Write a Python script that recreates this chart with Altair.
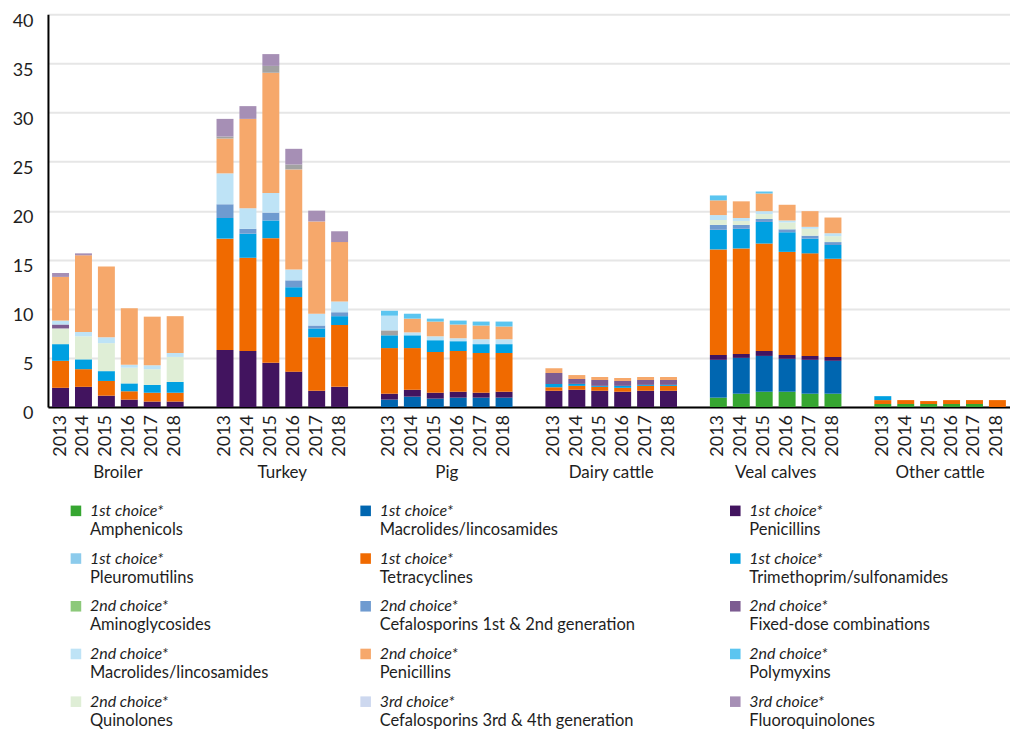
import altair as alt
import pandas as pd

GROUPS = ["Broiler", "Turkey", "Pig", "Dairy cattle", "Veal calves", "Other cattle"]
YEARS = ["2013", "2014", "2015", "2016", "2017", "2018"]

# legend entries (row-wise order) -- key, choice label, name, colour
LEGEND_KEYS = ["amph1", "macro1", "peni1", "pleuro1", "tetra1", "trim1",
               "amino2", "cef12_2", "fixed2", "macro2", "peni2", "poly2",
               "quino2", "cef34_3", "fluoro3"]
LEGEND_CHOICE = ["1st choice*", "1st choice*", "1st choice*",
                 "1st choice*", "1st choice*", "1st choice*",
                 "2nd choice*", "2nd choice*", "2nd choice*",
                 "2nd choice*", "2nd choice*", "2nd choice*",
                 "2nd choice*", "3rd choice*", "3rd choice*"]
LEGEND_NAMES = ["Amphenicols", "Macrolides/lincosamides", "Penicillins",
                "Pleuromutilins", "Tetracyclines", "Trimethoprim/sulfonamides",
                "Aminoglycosides", "Cefalosporins 1st & 2nd generation", "Fixed-dose combinations",
                "Macrolides/lincosamides", "Penicillins", "Polymyxins",
                "Quinolones", "Cefalosporins 3rd & 4th generation", "Fluoroquinolones"]
LEGEND_COLORS = ["#36a631", "#0066b0", "#42145f", "#8ccbec", "#f06a00", "#00a0e1",
                 "#8cc97a", "#6f9bd0", "#7c5b91", "#bee3f6", "#f6a86b", "#5bc5f0",
                 "#dfeed6", "#cdd8ef", "#a68fb5"]

# unlabelled grey segments seen in the bars
GREY_KEYS = ["grey_low", "grey_high"]
GREY_COLOR = "#a2a2a2"

# stacking order, bottom to top
STACK_ORDER = ["amph1", "macro1", "peni1", "pleuro1", "tetra1", "trim1", "grey_low",
               "amino2", "cef12_2", "quino2", "fixed2", "macro2", "peni2", "poly2",
               "grey_high", "cef34_3", "fluoro3"]

# values (DDDA/Y), one entry per year 2013..2018
BROILER = {
    "peni1":  [1.95, 2.05, 1.15, 0.75, 0.55, 0.55],
    "tetra1": [2.75, 1.80, 1.50, 0.85, 0.90, 0.90],
    "trim1":  [1.70, 1.00, 1.00, 0.80, 0.80, 1.10],
    "quino2": [1.60, 2.35, 2.85, 1.60, 1.60, 2.55],
    "fixed2": [0.40, 0.00, 0.00, 0.00, 0.00, 0.00],
    "macro2": [0.40, 0.45, 0.60, 0.30, 0.40, 0.40],
    "peni2":  [4.45, 7.80, 7.20, 5.75, 4.95, 3.75],
    "fluoro3": [0.40, 0.20, 0.00, 0.00, 0.00, 0.00],
}
TURKEY = {
    "peni1":  [5.80, 5.70, 4.50, 3.60, 1.65, 2.05],
    "tetra1": [11.35, 9.50, 12.70, 7.60, 5.45, 6.30],
    "trim1":  [2.10, 2.45, 1.80, 1.00, 0.90, 0.90],
    "cef12_2": [1.40, 0.50, 0.80, 0.70, 0.30, 0.40],
    "macro2": [3.15, 2.10, 2.00, 1.10, 1.20, 1.10],
    "peni2":  [3.55, 9.10, 12.25, 10.20, 9.40, 6.05],
    "grey_high": [0.20, 0.00, 0.70, 0.50, 0.00, 0.00],
    "fluoro3": [1.80, 1.30, 1.20, 1.60, 1.10, 1.10],
}
PIG = {
    "macro1": [0.75, 1.05, 0.85, 0.95, 0.95, 0.95],
    "peni1":  [0.60, 0.70, 0.60, 0.60, 0.50, 0.60],
    "tetra1": [4.65, 4.25, 4.15, 4.15, 4.05, 3.95],
    "trim1":  [1.30, 1.30, 1.20, 1.00, 0.90, 0.90],
    "grey_low": [0.50, 0.00, 0.00, 0.00, 0.00, 0.00],
    "macro2": [1.50, 0.30, 0.40, 0.30, 0.50, 0.50],
    "peni2":  [0.00, 1.40, 1.50, 1.40, 1.40, 1.30],
    "poly2":  [0.50, 0.50, 0.30, 0.40, 0.40, 0.50],
}
DAIRY = {
    "peni1":  [1.65, 1.75, 1.65, 1.55, 1.65, 1.65],
    "tetra1": [0.35, 0.40, 0.40, 0.40, 0.50, 0.50],
    "trim1":  [0.35, 0.20, 0.10, 0.20, 0.10, 0.10],
    "fixed2": [1.10, 0.50, 0.60, 0.50, 0.50, 0.50],
    "peni2":  [0.50, 0.40, 0.30, 0.30, 0.30, 0.30],
}
VEAL = {
    "amph1":  [0.95, 1.35, 1.55, 1.55, 1.35, 1.35],
    "macro1": [3.85, 3.65, 3.65, 3.35, 3.45, 3.35],
    "peni1":  [0.50, 0.40, 0.50, 0.40, 0.40, 0.40],
    "tetra1": [10.75, 10.75, 10.95, 10.50, 10.45, 10.00],
    "trim1":  [2.00, 2.00, 2.20, 2.00, 1.50, 1.40],
    "cef12_2": [0.50, 0.40, 0.30, 0.30, 0.30, 0.30],
    "quino2": [0.50, 0.40, 0.50, 0.70, 0.70, 0.60],
    "macro2": [0.50, 0.30, 0.30, 0.20, 0.20, 0.30],
    "peni2":  [1.50, 1.70, 1.80, 1.60, 1.60, 1.60],
    "poly2":  [0.50, 0.00, 0.20, 0.00, 0.00, 0.00],
}
OTHER_CATTLE = {
    "amph1":  [0.30, 0.30, 0.30, 0.30, 0.30, 0.00],
    "tetra1": [0.40, 0.40, 0.30, 0.40, 0.40, 0.70],
    "trim1":  [0.40, 0.00, 0.00, 0.00, 0.00, 0.00],
}
GROUP_DATA = [BROILER, TURKEY, PIG, DAIRY, VEAL, OTHER_CATTLE]

FONT = "Lato"
TEXT_COLOR = "#1e1e1e"

rows = []
for g, data in zip(GROUPS, GROUP_DATA):
    for key, vals in data.items():
        for yr, v in zip(YEARS, vals):
            if v > 0:
                rows.append({"group": g, "year": yr, "key": key, "value": v,
                             "rank": STACK_ORDER.index(key)})
df = pd.DataFrame(rows)

year_df = pd.DataFrame([{"group": g, "year": y} for g in GROUPS for y in YEARS])

all_keys = LEGEND_KEYS + GREY_KEYS
all_colors = LEGEND_COLORS + [GREY_COLOR, GREY_COLOR]

x_enc = alt.X("group:N", sort=GROUPS,
              scale=alt.Scale(paddingInner=0.2, paddingOuter=0.025),
              axis=alt.Axis(title=None, labelAngle=0, labelPadding=58, ticks=False,
                            domainColor="black", domainWidth=2, labelFontSize=17,
                            labelColor=TEXT_COLOR, labelFont=FONT))
xoff_enc = alt.XOffset("year:N", sort=YEARS,
                       scale=alt.Scale(paddingInner=0.26, paddingOuter=0))

bars = alt.Chart(df).mark_bar().encode(
    x=x_enc,
    xOffset=xoff_enc,
    y=alt.Y("value:Q", stack="zero",
            scale=alt.Scale(domain=[0, 40]),
            axis=alt.Axis(title=None, values=[0, 5, 10, 15, 20, 25, 30, 35, 40],
                          grid=True, gridColor="#e6e6e6", gridWidth=2, ticks=False,
                          labelPadding=15, labelOffset=7, labelFontSize=18,
                          labelColor=TEXT_COLOR, labelFont=FONT,
                          domainColor="black", domainWidth=2)),
    color=alt.Color("key:N", scale=alt.Scale(domain=all_keys, range=all_colors), legend=None),
    order=alt.Order("rank:Q", sort="ascending"),
)

year_labels = alt.Chart(year_df).mark_text(
    angle=270, align="right", baseline="middle", dx=-8,
    fontSize=18, font=FONT, color=TEXT_COLOR,
).encode(
    x=x_enc,
    xOffset=xoff_enc,
    y=alt.datum(0),
    text="year:N",
)

main = alt.layer(bars, year_labels).properties(width=963, height=393)

# legend built from the legend arrays
LEGEND_COL_X = [28, 318, 688]
leg_df = pd.DataFrame([
    {"key": k, "choice": c, "name": n, "row": i // 3, "col": i % 3}
    for i, (k, c, n) in enumerate(zip(LEGEND_KEYS, LEGEND_CHOICE, LEGEND_NAMES))
])
lx = alt.X("col:Q", scale=alt.Scale(domain=[0, 1, 2], range=LEGEND_COL_X), axis=None)
ly = alt.Y("row:O", scale=alt.Scale(type="point", padding=0), axis=None)
leg_base = alt.Chart(leg_df).encode(x=lx, y=ly)
swatches = leg_base.mark_square(size=112, opacity=1).encode(
    color=alt.Color("key:N", scale=alt.Scale(domain=LEGEND_KEYS, range=LEGEND_COLORS), legend=None)
)
choice_txt = leg_base.mark_text(align="left", baseline="middle", dx=14, fontSize=16,
                                fontStyle="italic", font=FONT, color=TEXT_COLOR).encode(text="choice:N")
name_txt = leg_base.mark_text(align="left", baseline="middle", dx=14, dy=19, fontSize=16.5,
                              font=FONT, color=TEXT_COLOR).encode(text="name:N")
legend = alt.layer(swatches, choice_txt, name_txt).properties(width=963, height=191)

chart = alt.vconcat(main, legend, spacing=22).resolve_scale(color="independent").properties(
    padding={"left": 4, "top": 4, "right": 0, "bottom": 0}
).configure_view(stroke=None)

chart.save("out.html", embed_options={"renderer": "svg", "actions": False})
